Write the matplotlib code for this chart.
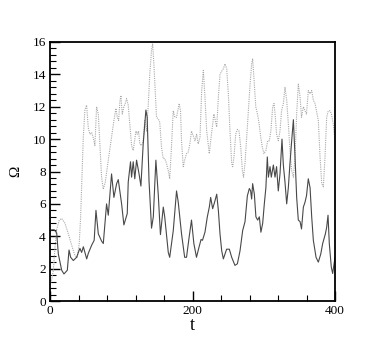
import numpy as np
import matplotlib
matplotlib.use("Agg")
import matplotlib.pyplot as plt
from matplotlib.ticker import MultipleLocator

plt.rcParams['font.family'] = ['Liberation Serif', 'DejaVu Serif']

# solid curve
t_solid = [0, 2.3, 6, 9.4, 11.7, 16.4, 19.6, 24.3, 26.7, 29, 32.7, 37.4, 39.8, 42, 44.4, 46.8, 49,
           51.5, 53.8, 58.5, 62, 64.5, 67.8, 72.4, 74.8, 79.4, 81.8, 86.4, 89.7, 93.5, 95.8,
           100.5, 103.7, 108.4, 109.8, 113, 114.5, 116.8, 119, 121.5, 125, 127.6, 130.8,
           134.6, 136.4, 139, 142.5, 145, 148.6, 151.9, 155, 159, 161, 166, 168, 173, 177.6,
           180, 184.6, 189, 191.6, 195.3, 198.6, 201.9, 205.6, 209, 212, 214, 217.5, 220.8,
           223.6, 225.5, 228.3, 231.6, 234, 236.3, 238.6, 241, 243.3, 247.9, 251.7, 255,
           259.6, 263, 266.7, 270.4, 273.7, 277, 279.8, 281.6, 283, 284.4, 286.8, 289, 291.5,
           293.8, 296, 298.5, 300.8, 303, 305, 306.5, 308.8, 310.6, 313.5, 315.8, 318, 320.4,
           322.8, 325.6, 327.5, 329.8, 332.2, 334.5, 336.8, 339.2, 341.6, 343.9, 346.2,
           348.5, 351, 353, 355.6, 357.9, 360, 362.5, 365, 367.3, 369.6, 373.4, 376.6, 380,
           382.7, 384.6, 386.5, 388.3, 390.2, 392, 394.8, 396.7, 398.6, 400]
omega_solid = [4.3, 4.4, 4.4, 4.2, 2.9, 1.9, 1.67, 1.9, 3.15, 2.7, 2.5, 2.7, 3.0, 3.25, 3.0, 3.35,
               3.0, 2.6, 2.95, 3.45, 3.75, 5.6, 4.15, 3.7, 3.55, 6.0, 5.3, 7.85, 6.4, 7.25, 7.5,
               6.0, 4.7, 5.4, 7.35, 8.6, 7.65, 8.6, 7.55, 8.7, 7.85, 7.1, 9.7,
               11.8, 11.35, 7.4, 4.5, 5.2, 8.7, 6.6, 4.1, 5.8, 5.2, 3.0, 2.7, 4.35, 6.8,
               6.1, 4.15, 2.7, 2.7, 3.95, 5.0, 3.55, 2.7, 3.3, 3.8, 3.75, 4.25, 5.2,
               5.8, 6.4, 5.7, 6.2, 6.6, 5.6, 4.15, 3.1, 2.6, 3.2, 3.2, 2.7,
               2.2, 2.3, 3.1, 4.35, 4.9, 6.5, 6.95, 6.8, 6.3, 7.25, 6.6, 5.2, 5.0,
               5.2, 4.25, 4.8, 6.0, 7.0, 8.9, 7.65, 8.3, 7.65, 8.4, 7.65, 8.3, 6.8,
               7.85, 10.0, 8.4, 7.35, 6.0, 7.0, 8.5, 9.9, 11.2, 8.9, 6.4,
               5.0, 4.9, 4.45, 5.8, 6.1, 6.5, 7.55, 7.0, 5.2, 3.75, 2.7, 2.4, 2.9,
               3.55, 3.85, 4.15, 4.55, 5.3, 3.55, 2.1, 1.7, 2.3, 2.7]

# dotted curve
t_dot = [0, 2.3, 4.7, 7, 9.3, 13, 16.4, 21, 25.7, 30.4, 35, 38.3, 41, 43, 44.9, 46.7, 49, 51.4,
         53.7, 56, 58.4, 60.7, 63, 65.4, 67.8, 70, 72.4, 74.8, 77.6, 81.8, 86.4, 89.7, 92.5,
         94.4, 96.3, 98, 99.5, 101.4, 103.7, 105.6, 107.5, 109.8, 112, 114.5, 116.8, 120.6,
         122.4, 124.3, 126, 128.5, 130.8, 133, 135.5, 137.9, 140, 142.5, 144, 145.8, 147.7,
         149.5, 151.9, 154, 156.5, 158.9, 161, 163.5, 166, 168, 170.6, 172.9, 175.2, 177.6,
         180, 181.3, 183.2, 184.6, 187, 189, 191.6, 194, 196.3, 198.6, 201, 203.5, 205.8,
         208, 210.5, 212.9, 215.2, 217.5, 219.9, 222, 223.6, 225.5, 227.8, 230, 232, 234,
         236.3, 238.6, 241, 243.3, 245.6, 248, 250.3, 252.6, 255, 256.4, 258.2, 260.6, 263,
         265.3, 267.7, 270, 271.6, 273.7, 276, 278.4, 280.8, 283, 284.4, 286.5, 288.8,
         291.2, 293.5, 295.8, 298, 300.3, 303, 305.5, 307.8, 310, 312.5, 314.4, 316.3, 318,
         320.4, 322.8, 325, 327.5, 329.8, 332.2, 334.5, 336.8, 339.2, 341.6, 343.9, 346.2,
         348.5, 351, 353, 355.6, 357.9, 360, 362.5, 365, 367.3, 369.6, 372, 374, 376.6, 379,
         381.4, 383.6, 386, 388.3, 390.6, 393, 395, 397.5, 400]
omega_dot = [1.0, 1.3, 1.9, 3.3, 4.4, 5.0, 5.1, 4.8, 4.15, 3.45, 2.8, 2.7, 3.55, 5.2, 7.65, 10.1, 11.8, 12.1,
             10.7, 10.3, 10.4, 10.1, 9.6, 12.0, 11.55, 9.7, 7.65, 6.9, 7.35, 8.7, 10.1, 11.15, 11.9,
             11.35, 11.15, 12.3, 12.7, 11.55, 12.0, 12.2, 12.5, 12.1, 10.9, 9.6, 9.3, 10.5,
             10.3, 10.5, 9.7, 9.6, 9.9, 11.15, 10.5, 12.1, 14.0, 15.5, 15.9, 14.65, 13.0,
             11.35, 11.25, 11.05, 9.5, 8.8, 8.8, 8.5, 8.05, 7.55, 9.6, 11.75, 11.35, 11.35,
             11.9, 12.2, 11.75, 9.9, 8.3, 8.7, 9.1, 9.2, 9.7, 10.5, 10.2, 9.9, 10.3,
             9.7, 10.1, 13.0, 14.25, 12.6, 10.5, 9.7, 9.1, 9.9, 10.75, 11.55, 11.15, 10.75,
             12.6, 14.0, 14.2, 14.35, 14.65, 14.35, 12.8, 10.5, 8.5, 8.3, 8.9, 10.3, 10.6,
             10.5, 9.5, 8.05, 7.65, 8.5, 10.1, 11.75, 13.4, 14.65, 14.95, 13.6, 12.0,
             11.55, 10.95, 10.1, 9.5, 9.1, 9.3, 9.9, 9.9, 10.5, 12.0, 12.2, 11.35, 10.3,
             9.9, 10.5, 11.75, 12.2, 13.2, 12.4, 10.95, 9.3, 8.05, 7.65, 8.9, 11.55,
             13.4, 12.6, 11.35, 12.0, 11.75, 11.55, 13.0, 12.8, 13.0, 12.4, 12.2, 11.75, 11.15, 8.9,
             7.25, 7.05, 8.9, 11.35, 11.75, 11.75, 11.55, 10.95, 9.9]

fig = plt.figure(figsize=(3.82, 3.39), dpi=100)
ax = fig.add_axes([50/382, 1 - 301/339, 285/382, 259/339])

ax.plot(t_dot, omega_dot, color='#a8a8a8', linestyle=(0, (1, 1)), linewidth=0.8)
ax.plot(t_solid, omega_solid, color='#484848', linestyle='-', linewidth=0.8)

ax.set_xlim(0, 400)
ax.set_ylim(0, 16)
ax.xaxis.set_major_locator(MultipleLocator(200))
ax.xaxis.set_minor_locator(MultipleLocator(40))
ax.yaxis.set_major_locator(MultipleLocator(2))
ax.yaxis.set_minor_locator(MultipleLocator(0.4))
ax.tick_params(which='both', direction='in', top=False, right=False, labelsize=9.5, pad=3)
ax.tick_params(which='major', length=7, width=1)
ax.tick_params(which='minor', length=4, width=0.8)
for s in ax.spines.values():
    s.set_linewidth(1.3)

ax.set_xlabel('t', fontsize=13, labelpad=0)
ax.set_ylabel('Ω', fontsize=11)
ax.yaxis.set_label_coords(-28/285, 0.5)

plt.savefig('out.png', dpi=100)
